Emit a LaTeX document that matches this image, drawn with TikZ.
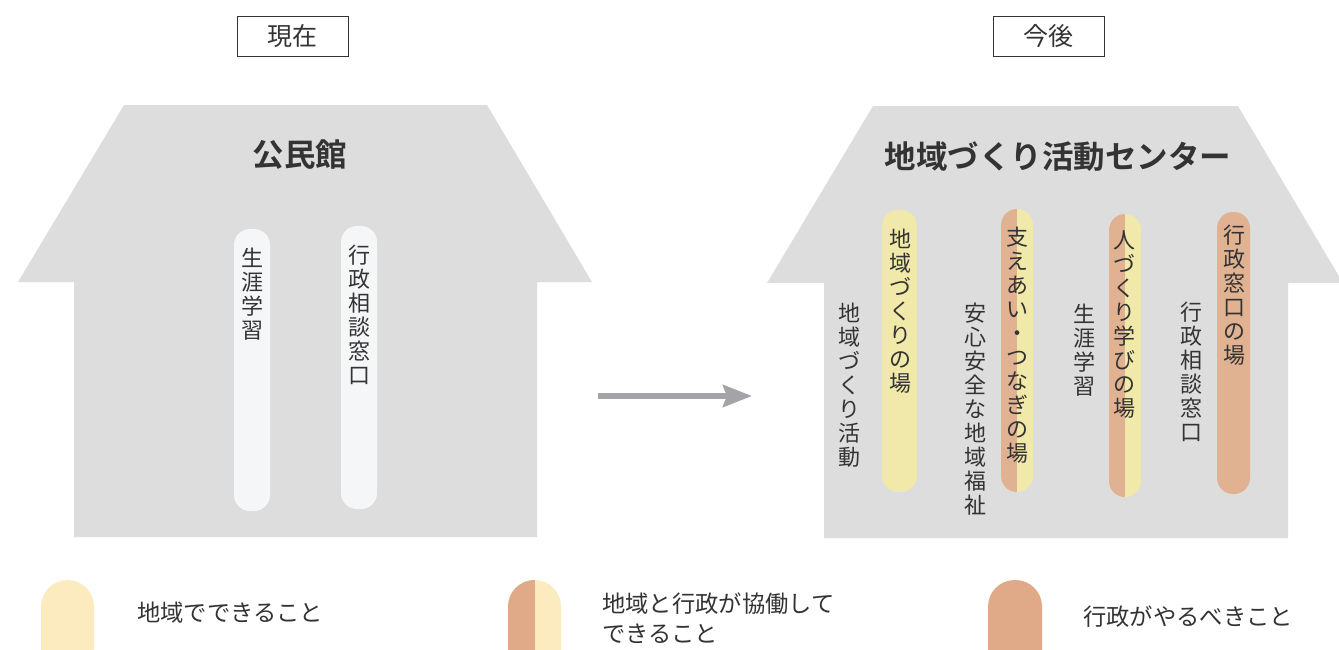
\documentclass[tikz,border=0pt]{standalone}
\usepackage{fontspec}
\newfontfamily\jp{Noto Sans CJK JP}[BoldFont={Noto Sans CJK JP Bold}]
\usetikzlibrary{arrows.meta}
\definecolor{housegray}{HTML}{DDDDDD}
\definecolor{lightpill}{HTML}{F5F6F8}
\definecolor{pillyellow}{HTML}{F1E9A9}
\definecolor{pillorange}{HTML}{E0B292}
\definecolor{legcream}{HTML}{FDEBC0}
\definecolor{legorange}{HTML}{E0AA88}
\definecolor{arrowgray}{HTML}{A3A3A8}
\definecolor{txt}{HTML}{333333}
\begin{document}
\begin{tikzpicture}[x=1pt,y=-1pt,
  vt/.style={font=\jp\fontsize{22}{24}\selectfont, align=center, inner sep=0pt, text=txt},
  ttl/.style={font=\jp\bfseries\fontsize{31.5}{34}\selectfont, inner sep=0pt, text=txt},
  legtxt/.style={font=\jp\fontsize{23.3}{30}\selectfont, align=left, inner sep=0pt, text=txt, anchor=west},
  tagbox/.style={draw=txt, line width=0.9pt, minimum width=111pt, minimum height=40pt, inner sep=0pt, font=\jp\fontsize{25}{28}\selectfont, text=txt},
  pill/.style={rounded corners=16pt, inner sep=0pt, draw=none, minimum height=282pt},
  splitpill/.style={pill, fill=pillyellow, path picture={\fill[pillorange, sharp corners] (path picture bounding box.south west) rectangle (path picture bounding box.north);}},
  legpill/.style={rounded corners=26.5pt, inner sep=0pt, draw=none, minimum width=53pt, minimum height=120pt},
  house/.style={fill=housegray, draw=none}
]
\useasboundingbox (0,0) rectangle (1339,649);
\clip (0,0) rectangle (1339,649);
\fill[white] (0,0) rectangle (1339,649);

% houses
\fill[house] (74,537) -- (74,282) -- (18,282) -- (124,105) -- (487,105) -- (592,282) -- (537,282) -- (537,537) -- cycle;
\fill[house] (824,538) -- (824,283) -- (767,283) -- (873,106) -- (1238,106) -- (1343,283) -- (1288,283) -- (1288,538) -- cycle;

% top tags
\node[tagbox] (now) at (292.5,36) {現在};
\node[tagbox] (future) at (1048.5,36) {今後};

% titles
\node[ttl] (t1) at (300,155) {公民館};
\node[ttl] (t2) at (1058,157) {地域づくり活動センター};

% left pills
\node[pill, fill=lightpill, minimum width=36pt] (lp1) at (252,370) {};
\node[pill, fill=lightpill, minimum width=36pt, minimum height=283pt] (lp2) at (359,367.5) {};
\node[vt] (lt1) at (252,294.5) {生\\涯\\学\\習};
\node[vt] (lt2) at (359,315) {行\\政\\相\\談\\窓\\口};

% right pills
\node[pill, fill=pillyellow, minimum width=35pt] (rp1) at (899.5,351) {};
\node[splitpill, minimum width=32pt, minimum height=283pt] (rp2) at (1017,350.5) {};
\node[splitpill, minimum width=32pt, minimum height=283pt] (rp3) at (1125,355.5) {};
\node[pill, fill=pillorange, minimum width=33pt] (rp4) at (1233.5,353) {};

\node[vt] (rt1) at (900,311.5) {地\\域\\づ\\く\\り\\の\\場};
\node[vt] (rt2) at (1017,345) {支\\え\\あ\\い\\・\\つ\\な\\ぎ\\の\\場};
\node[vt] (rt3) at (1124,325) {人\\づ\\く\\り\\学\\び\\の\\場};
\node[vt] (rt4) at (1234,295.5) {行\\政\\窓\\口\\の\\場};

\node[vt] (rs1) at (849,385) {地\\域\\づ\\く\\り\\活\\動};
\node[vt] (rs2) at (975,409) {安\\心\\安\\全\\な\\地\\域\\福\\祉};
\node[vt] (rs3) at (1084,350.5) {生\\涯\\学\\習};
\node[vt] (rs4) at (1191,371.5) {行\\政\\相\\談\\窓\\口};

% arrow
\coordinate (a1) at (598,396);
\coordinate (a2) at (752,396);
\draw[arrowgray, line width=5.6pt, -{Stealth[length=29pt, width=22pt, inset=4pt]}] (a1) -- (a2);

% legend
\node[legpill, fill=legcream] (l1) at (67.5,640) {};
\node[legpill, fill=legcream, path picture={\fill[legorange, sharp corners] (path picture bounding box.south west) rectangle (path picture bounding box.north);}] (l2) at (534.5,640) {};
\node[legpill, fill=legorange, minimum width=54pt] (l3) at (1015,640) {};

\node[legtxt] (lt1) at (137,613) {地域でできること};
\node[legtxt] (lt2) at (602,618) {地域と行政が協働して\\できること};
\node[legtxt] (lt3) at (1083,617) {行政がやるべきこと};
\end{tikzpicture}
\end{document}
